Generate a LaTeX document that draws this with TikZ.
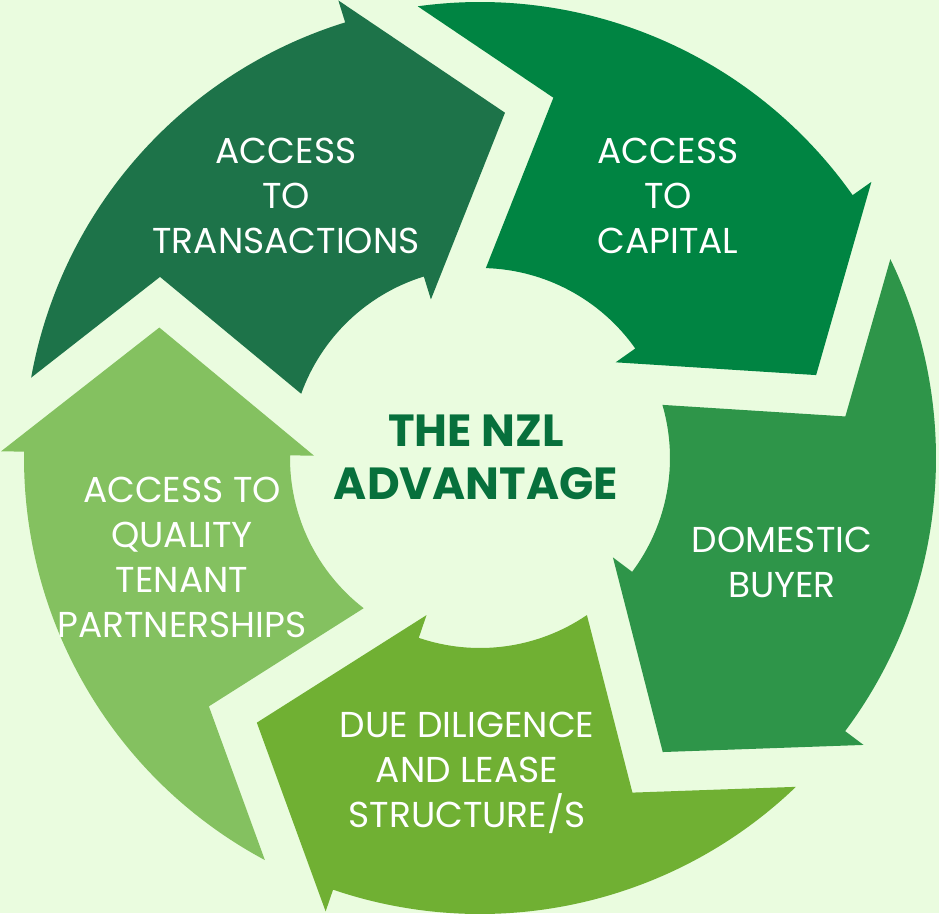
\documentclass[tikz,border=0pt]{standalone}
\usepackage{fontspec}
\setmainfont{Poppins}
\usetikzlibrary{calc}

\definecolor{bgc}{HTML}{EAFCDF}
\definecolor{segA}{HTML}{1D7349}
\definecolor{segB}{HTML}{008442}
\definecolor{segC}{HTML}{2E9549}
\definecolor{segD}{HTML}{70B033}
\definecolor{segE}{HTML}{84C160}
\definecolor{hubtext}{HTML}{07703C}

% One curved arrow of the cycle: #1 = angle of the arrowhead base,
% #2 = fill colour. The tail is notched to fit the previous arrowhead.
\newcommand\cycseg[2]{%
  \pgfmathsetmacro\hA{#1}%
  \pgfmathsetmacro\pA{#1+72}%
  \pgfmathsetmacro\tOut{\pA-9.35}%
  \pgfmathsetmacro\tIn{\pA-18.96}%
  \pgfmathsetmacro\tNotch{\pA-28.71}%
  \pgfmathsetmacro\tTip{\hA-21.34}%
  \fill[#2] (\tOut:456) arc[start angle=\tOut, end angle=\hA, radius=456]
    -- (\hA:479) -- (\tTip:346.2) -- (\hA:166) -- (\hA:190)
    arc[start angle=\hA, end angle=\tIn, radius=190]
    -- (\tNotch:367.7) -- cycle;%
}

\tikzset{
  seglabel/.style={text=white, align=center, font=\fontsize{36}{45}\selectfont},
  hublabel/.style={text=hubtext, align=center, font=\bfseries\fontsize{45}{53}\selectfont}
}

\begin{document}
\begin{tikzpicture}[x=1pt, y=1pt]
  \useasboundingbox (0,0) rectangle (939,-913);
  \fill[bgc] (0,0) rectangle (939,-913);

  \begin{scope}[shift={(480,-458)}]
    \cycseg{107.2}{segA}
    \cycseg{35.2}{segB}
    \cycseg{-36.8}{segC}
    \cycseg{-108.8}{segD}
    \cycseg{-180.8}{segE}
  \end{scope}

  \node[seglabel] (trans) at (286,-196) {ACCESS\\TO\\TRANSACTIONS};
  \node[seglabel] (capital) at (668,-196) {ACCESS\\TO\\CAPITAL};
  \node[seglabel] (buyer) at (782,-562) {DOMESTIC\\BUYER};
  \node[seglabel] (diligence) at (467,-773) {DUE DILIGENCE\\AND LEASE\\STRUCTURE/S};
  \node[seglabel] (tenant) at (182,-557) {ACCESS TO\\QUALITY\\TENANT\\PARTNERSHIPS};
  \node[hublabel] (hub) at (476,-457) {THE NZL\\ADVANTAGE};
\end{tikzpicture}
\end{document}
